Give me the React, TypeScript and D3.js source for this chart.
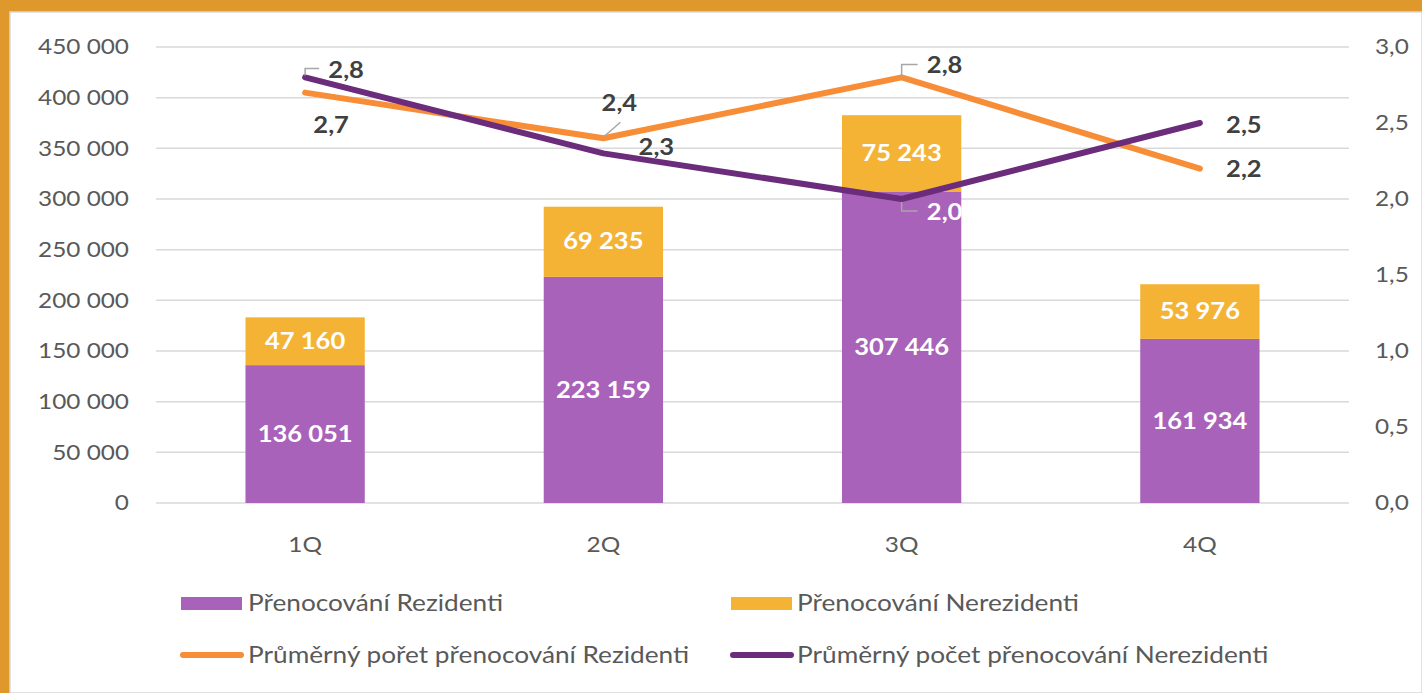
import React from "react";
import * as d3 from "d3";

const quarters = ["1Q", "2Q", "3Q", "4Q"];
const rezidenti = [136051, 223159, 307446, 161934];
const nerezidenti = [47160, 69235, 75243, 53976];
const avgRezidenti = [2.7, 2.4, 2.8, 2.2];
const avgNerezidenti = [2.8, 2.3, 2.0, 2.5];
const leftTicks = [0, 50000, 100000, 150000, 200000, 250000, 300000, 350000, 400000, 450000];
const rightTicks = [0, 0.5, 1, 1.5, 2, 2.5, 3];

const legendNames = [
  "Přenocování Rezidenti",
  "Přenocování Nerezidenti",
  "Průměrný pořet přenocování Rezidenti",
  "Průměrný počet přenocování Nerezidenti",
];

const W = 1422;
const H = 693;
const PURPLE_BAR = "#A862BA";
const YELLOW_BAR = "#F5B335";
const ORANGE_LINE = "#F88D38";
const PURPLE_LINE = "#6B2C7C";
const FONT = "Lato, 'Open Sans', sans-serif";
const SX = 1.16; // the original text is a bit wider than Lato

// label offsets from the point
const orangeLabelOff = [
  [26, 33],
  [16, -35],
  [43, -12],
  [44, 1],
];
const purpleLabelOff = [
  [41, -7],
  [53, -6],
  [43, 13],
  [44, 2],
];

const fmt = (v: number) => d3.format(",")(v).replace(/,/g, " ");
const fmt1 = (v: number) => v.toFixed(1).replace(".", ",");

type TxtProps = {
  x: number;
  y: number;
  anchor?: "start" | "middle" | "end";
  size?: number;
  bold?: boolean;
  fill?: string;
  children: React.ReactNode;
};

const Txt = ({ x, y, anchor = "start", size = 21, bold = false, fill = "#595959", children }: TxtProps) => (
  <text
    transform={`translate(${x},${y}) scale(${SX},1)`}
    dy="0.35em"
    textAnchor={anchor}
    fontSize={size}
    fontWeight={bold ? "bold" : "normal"}
    fill={fill}
  >
    {children}
  </text>
);

export default function App() {
  const x = d3.scaleBand().domain(quarters).range([156, 1349]).paddingInner(0.6).paddingOuter(0.3);
  const xc = (q: string) => (x(q) as number) + x.bandwidth() / 2;
  const y = d3.scaleLinear().domain([0, 450000]).range([503, 47]);
  const y2 = d3.scaleLinear().domain([0, 3]).range([503, 47]);

  const line = d3
    .line<number>()
    .x((_, i) => xc(quarters[i]))
    .y((d) => y2(d));

  const p1 = xc("1Q");
  const p2 = xc("2Q");
  const p3 = xc("3Q");

  return (
    <div style={{ position: "fixed", left: 0, top: 0, width: W, height: H }}>
      <svg width={W} height={H} style={{ display: "block", fontFamily: FONT }}>
        <rect x={0} y={0} width={W} height={H} fill="#DE982C" />
        <rect x={10} y={12} width={W - 10} height={H - 12} fill="#ffffff" stroke="#d9d9d9" strokeWidth={1.5} />

        {leftTicks.map((t) => (
          <g key={t}>
            <line x1={156} x2={1349} y1={y(t)} y2={y(t)} stroke="#d9d9d9" strokeWidth={1.5} />
            <Txt x={129} y={y(t)} anchor="end">
              {fmt(t)}
            </Txt>
          </g>
        ))}
        {rightTicks.map((t) => (
          <Txt key={t} x={1375} y={y2(t)}>
            {fmt1(t)}
          </Txt>
        ))}

        {quarters.map((q, i) => {
          const bx = x(q) as number;
          const y0 = y(rezidenti[i]);
          const y1 = y(rezidenti[i] + nerezidenti[i]);
          return (
            <g key={q}>
              <rect x={bx} y={y0} width={x.bandwidth()} height={y(0) - y0} fill={PURPLE_BAR} />
              <rect x={bx} y={y1} width={x.bandwidth()} height={y0 - y1} fill={YELLOW_BAR} />
              <Txt x={xc(q)} y={(y0 + y(0)) / 2} anchor="middle" size={22} bold fill="#fff">
                {fmt(rezidenti[i])}
              </Txt>
              <Txt x={xc(q)} y={(y0 + y1) / 2} anchor="middle" size={22} bold fill="#fff">
                {fmt(nerezidenti[i])}
              </Txt>
              <Txt x={xc(q)} y={545} anchor="middle">
                {q}
              </Txt>
            </g>
          );
        })}

        <path d={line(avgRezidenti) || ""} fill="none" stroke={ORANGE_LINE} strokeWidth={6} strokeLinecap="round" strokeLinejoin="round" />
        <path d={line(avgNerezidenti) || ""} fill="none" stroke={PURPLE_LINE} strokeWidth={6} strokeLinecap="round" strokeLinejoin="round" />

        {/* leader lines */}
        <g fill="none" stroke="#a6a6a6" strokeWidth={1.5}>
          <polyline points={`${p1},${y2(2.8) - 2} ${p1},${y2(2.8) - 9} ${p1 + 14},${y2(2.8) - 9}`} />
          <line x1={p2 + 1} y1={y2(2.4) - 2} x2={p2 + 17} y2={y2(2.4) - 16} />
          <polyline points={`${p3},${y2(2.8) + 1} ${p3},${y2(2.8) - 13} ${p3 + 16},${y2(2.8) - 13}`} />
          <polyline points={`${p3},${y2(2.0) + 3} ${p3},${y2(2.0) + 12} ${p3 + 16},${y2(2.0) + 12}`} />
        </g>

        {quarters.map((q, i) => (
          <g key={"l" + q}>
            <Txt
              x={xc(q) + orangeLabelOff[i][0]}
              y={y2(avgRezidenti[i]) + orangeLabelOff[i][1]}
              anchor="middle"
              size={22}
              bold
              fill="#404040"
            >
              {fmt1(avgRezidenti[i])}
            </Txt>
            <Txt
              x={xc(q) + purpleLabelOff[i][0]}
              y={y2(avgNerezidenti[i]) + purpleLabelOff[i][1]}
              anchor="middle"
              size={22}
              bold
              fill={i === 2 ? "#ffffff" : "#404040"}
            >
              {fmt1(avgNerezidenti[i])}
            </Txt>
          </g>
        ))}

        {/* legend */}
        <rect x={181} y={597} width={61} height={13} fill={PURPLE_BAR} />
        <Txt x={248} y={603} size={22.6}>{legendNames[0]}</Txt>
        <rect x={731} y={597} width={61} height={13} fill={YELLOW_BAR} />
        <Txt x={797} y={603} size={22.6}>{legendNames[1]}</Txt>
        <line x1={183} x2={241} y1={655} y2={655} stroke={ORANGE_LINE} strokeWidth={6} strokeLinecap="round" />
        <Txt x={248} y={655} size={22.6}>{legendNames[2]}</Txt>
        <line x1={733} x2={791} y1={655} y2={655} stroke={PURPLE_LINE} strokeWidth={6} strokeLinecap="round" />
        <Txt x={797} y={655} size={22.6}>{legendNames[3]}</Txt>
      </svg>
    </div>
  );
}
